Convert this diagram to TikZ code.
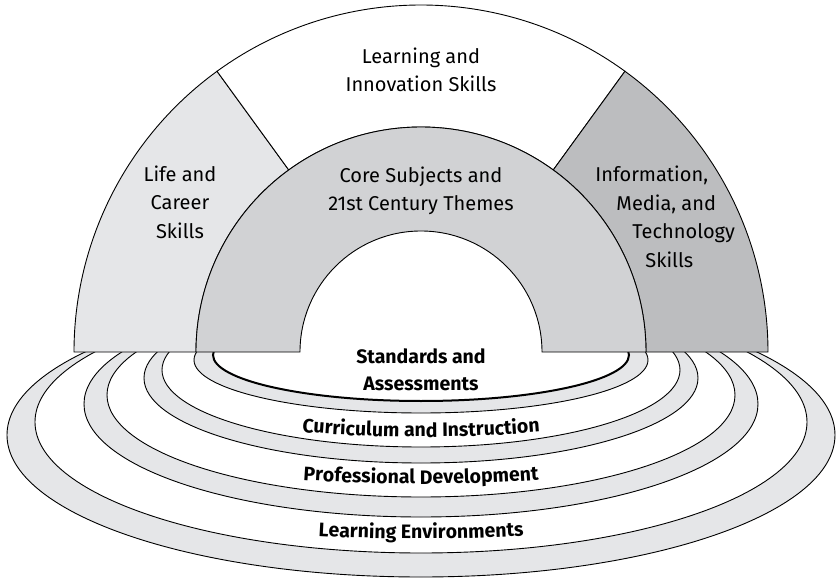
\documentclass[tikz,border=0pt]{standalone}
\usepackage{fontspec}
\setmainfont{Fira Sans}
\usetikzlibrary{decorations.text}

\definecolor{lifegray}{RGB}{229,230,232}
\definecolor{coregray}{RGB}{209,210,212}
\definecolor{infogray}{RGB}{188,189,191}
\definecolor{ringgray}{RGB}{229,230,232}

\def\ringsector[#1](#2:#3:#4:#5){\draw[#1] (#2:#5) arc (#2:#3:#5) -- (#3:#4) arc (#3:#2:#4) -- cycle;}
\newcommand{\skillfont}{\fontsize{20bp}{28.5bp}\selectfont}
\newcommand{\ringfont}{\fontsize{19.5bp}{27bp}\selectfont\bfseries}

\tikzset{
	skilltext/.style={font=\skillfont, align=center, inner sep=0pt},
	ringtext/.style={font=\ringfont, align=center, inner sep=0pt},
	ringlabel/.style={decorate, decoration={text along path, text align=center, text={|\ringfont|#1}}}
}

\begin{document}
\begin{tikzpicture}[x=10bp, y=10bp, line width=0.9bp]
			%%%%% START %%%%%
			\useasboundingbox (-42.1, -22.7) rectangle (41.5, 35.2);
			
			% rings below the arch
			\begin{scope}
				\clip (-42.1, 0) rectangle (41.5, -22.7);
				\draw[fill=ringgray] (0, -8.3) ellipse (41.4 and 14.2);
				\draw[fill=white] (0, -7.0) ellipse (38.6 and 13.1);
				\draw[fill=ringgray] (0, -5.2) ellipse (33.7 and 11.3);
				\draw[fill=white] (0, -4.3) ellipse (31.4 and 10.2);
				\draw[fill=ringgray] (0, -2.6) ellipse (27.7 and 8.5);
				\draw[fill=white] (0, -1.8) ellipse (25.9 and 7.7);
				\draw[fill=ringgray] (0, -0.8) ellipse (22.7 and 5.3);
				\draw[fill=white, line width=2bp] (0, -0.3) ellipse (20.8 and 4.6);
			\end{scope}
			
			% the arch
			\ringsector[fill=lifegray](126:180:22.5:34.7)
			\ringsector[fill=white](54:126:22.5:34.7)
			\ringsector[fill=infogray](0:54:22.5:34.7)
			\ringsector[fill=coregray](0:180:12.1:22.5)
			
			\node[skilltext] (innov) at (0, 28.2) {Learning and\\Innovation Skills};
			\node[skilltext] (life) at (-24.1, 15.0) {Life and\\Career\\Skills};
			\node[skilltext] (core) at (0, 16.1) {Core Subjects and\\21st Century Themes};
			\node[skilltext, anchor=west, align=left] (info) at (17.4, 13.5) {Information,\\\hspace*{21bp}Media, and\\\hspace*{37bp}Technology\\\hspace*{50bp}Skills};
			
			\node[ringtext] (standards) at (0, -1.8) {Standards and\\Assessments};
			
			\path[ringlabel={Curriculum and Instruction}] (-15, -7.72) .. controls (-5, -8.76) and (5, -8.76) .. (15, -7.72);
			\path[ringlabel={Professional Development}] (-15, -12.55) .. controls (-5, -13.42) and (5, -13.42) .. (15, -12.55);
			\path[ringlabel={Learning Environments}] (-15, -18.09) .. controls (-5, -18.9) and (5, -18.9) .. (15, -18.09);
			
			%%%%% END %%%%%
\end{tikzpicture}
\end{document}
